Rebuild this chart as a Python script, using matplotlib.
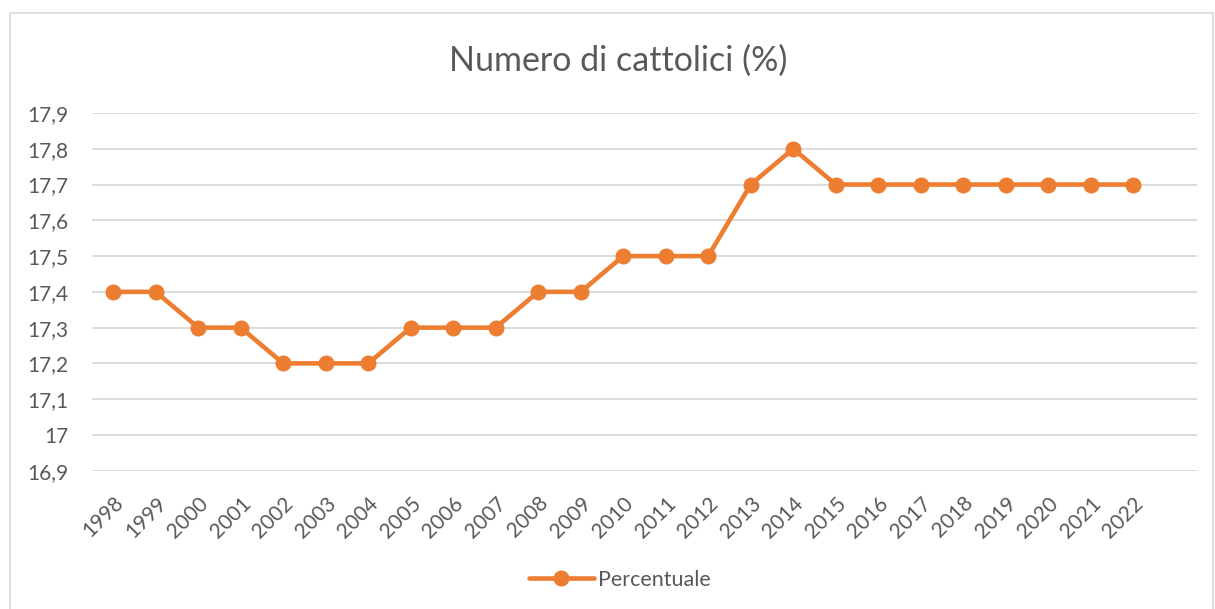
import matplotlib.pyplot as plt
from matplotlib.patches import Rectangle

years = [str(y) for y in range(1998, 2023)]
percentuale = [17.4, 17.4, 17.3, 17.3, 17.2, 17.2, 17.2, 17.3, 17.3, 17.3,
               17.4, 17.4, 17.5, 17.5, 17.5, 17.7, 17.8, 17.7, 17.7, 17.7,
               17.7, 17.7, 17.7, 17.7, 17.7]
y_ticks = [16.9, 17.0, 17.1, 17.2, 17.3, 17.4, 17.5, 17.6, 17.7, 17.8, 17.9]
y_labels = ["16,9", "17", "17,1", "17,2", "17,3", "17,4", "17,5", "17,6", "17,7", "17,8", "17,9"]

plt.rcParams['font.family'] = ['Lato', 'DejaVu Sans']
text_color = "#595959"
orange = "#ED7D31"

W, H = 1215, 609
fig = plt.figure(figsize=(W / 100, H / 100), dpi=100)
fig.patches.append(Rectangle((10 / W, -0.01), (1213 - 10) / W, 1 - 13 / H + 0.01,
                             transform=fig.transFigure, fill=False,
                             edgecolor="#d9d9d9", linewidth=1.2))

ax = fig.add_axes([92 / W, 1 - 470.7 / H, (1197 - 92) / W, (470.7 - 113) / H])
x = list(range(len(years)))
ax.plot(x, percentuale, color=orange, linewidth=3.3, marker="o", markersize=10.5,
        label="Percentuale", solid_capstyle="round")

ax.set_ylim(16.9, 17.9)
ax.set_xlim(-0.5, len(years) + 0.5)
ax.set_yticks(y_ticks)
ax.set_yticklabels(y_labels, fontsize=15, color=text_color)
ax.set_xticks(x)
ax.set_xticklabels(years, rotation=45, ha="right", rotation_mode="anchor",
                   fontsize=15, color=text_color)
ax.tick_params(length=0)
ax.tick_params(axis="y", pad=17)
ax.tick_params(axis="x", pad=16)
ax.grid(axis="y", color="#d9d9d9", linewidth=1.3)
ax.set_axisbelow(True)
for s in ax.spines.values():
    s.set_visible(False)

fig.text(618 / W, 1 - 61 / H, "Numero di cattolici (%)", ha="center", va="center",
         fontsize=24.5, color=text_color)

fig.legend(loc="center", bbox_to_anchor=(620 / W, 1 - 580 / H), frameon=False,
           fontsize=15.5, labelcolor=text_color, handlelength=3.0, handletextpad=0.2)

fig.savefig("out.png", dpi=100)
